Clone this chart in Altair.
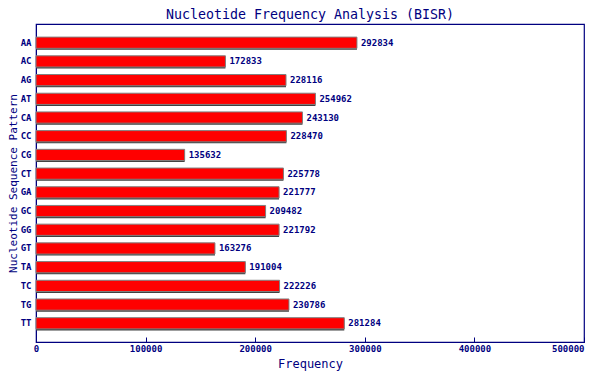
import altair as alt
import pandas as pd

patterns = ["AA", "AC", "AG", "AT", "CA", "CC", "CG", "CT",
            "GA", "GC", "GG", "GT", "TA", "TC", "TG", "TT"]
counts = [292834, 172833, 228116, 254962, 243130, 228470, 135632, 225778,
          221777, 209482, 221792, 163276, 191004, 222226, 230786, 281284]
tick_values = [0, 100000, 200000, 300000, 400000, 500000]

df = pd.DataFrame({"pattern": patterns, "count": counts})
navy = "#000080"
font = "DejaVu Sans Mono"

y_enc = alt.Y("pattern:N", sort=patterns,
              scale=alt.Scale(paddingInner=0.4, paddingOuter=0.7),
              axis=alt.Axis(title="Nucleotide Sequence Pattern", ticks=False,
                            domainColor=navy, labelColor=navy, labelFont=font,
                            labelFontSize=9, labelFontWeight="bold", labelPadding=5,
                            titleColor=navy, titleFont=font, titleFontSize=11,
                            titleFontWeight="normal", titlePadding=2))
x_enc = alt.X("count:Q", scale=alt.Scale(domain=[0, 500000], nice=False),
              axis=alt.Axis(title="Frequency", values=tick_values, format="d",
                            tickSize={"expr": "-5"}, tickColor=navy, grid=False,
                            domainColor=navy, labelColor=navy, labelFont=font,
                            labelFontSize=9, labelFontWeight="bold", labelPadding=7,
                            labelAlign={"condition": {"test": "datum.value >= 500000", "value": "right"},
                                        "value": "center"},
                            titleColor=navy, titleFont=font, titleFontSize=12,
                            titleFontWeight="normal", titlePadding=5))

base = alt.Chart(df)
shadow = base.mark_bar(color="#404040", yOffset=1.5).encode(x=x_enc, y=y_enc)
bars = base.mark_bar(color="#ff0000", stroke="#808080", strokeWidth=1).encode(x=x_enc, y=y_enc)
labels = base.mark_text(align="left", baseline="middle", dx=4, color=navy,
                        font=font, fontSize=9, fontWeight="bold").encode(
    x=x_enc, y=y_enc, text=alt.Text("count:Q", format="d"))

chart = alt.layer(shadow, bars, labels).properties(
    width=548, height=318,
    title=alt.TitleParams("Nucleotide Frequency Analysis (BISR)", color=navy,
                          font=font, fontSize=13.3, fontWeight="normal",
                          anchor="middle", offset=3),
    autosize=alt.AutoSizeParams(type="none"),
    padding={"left": 28, "top": 16, "right": 8, "bottom": 30},
).configure_view(stroke=navy, strokeWidth=1.2)

chart.save("out.html", embed_options={"renderer": "svg", "actions": False})
